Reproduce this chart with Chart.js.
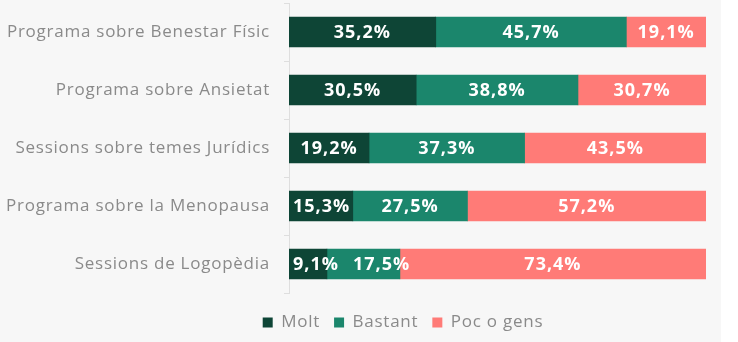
<!DOCTYPE html>
<html lang="ca">
  <head>
    <meta charset="UTF-8" />
    <meta name="viewport" content="width=device-width, initial-scale=1.0" />
    <title>Valoració dels programes</title>
    <script src="https://cdn.jsdelivr.net/npm/chart.js"></script>
    <style>
      html, body { margin: 0; padding: 0; background: #ffffff; }
      .wrap { width: 721px; height: 342px; background: #f7f7f7; }
    </style>
  </head>
  <body>
    <div class="wrap">
      <canvas id="programesChart" width="721" height="342"></canvas>
    </div>

    <script>
        const programes = [
            'Programa sobre Benestar Físic',
            'Programa sobre Ansietat',
            'Sessions sobre temes Jurídics',
            'Programa sobre la Menopausa',
            'Sessions de Logopèdia'
        ];
        const molt = [35.2, 30.5, 19.2, 15.3, 9.1];
        const bastant = [45.7, 38.8, 37.3, 27.5, 17.5];
        const pocOGens = [19.1, 30.7, 43.5, 57.2, 73.4];

        const fontFamily = '"Open Sans", Lato, sans-serif';

        // a bit of tracking on all canvas text (axis labels, legend)
        const tracking = {
            id: 'tracking',
            beforeUpdate(chart) { chart.ctx.letterSpacing = '0.75px'; },
            beforeDraw(chart) { chart.ctx.letterSpacing = '0.75px'; }
        };

        // nudge the legend right so it sits under the bars rather than the canvas centre
        const legendShift = {
            id: 'legendShift',
            afterLayout(chart) {
                chart.legend.left += 50;
                chart.legend.right += 50;
            }
        };

        // white percentage labels inside each segment, pushed right if they would overlap
        const segmentLabels = {
            id: 'segmentLabels',
            afterDatasetsDraw(chart) {
                const ctx = chart.ctx;
                ctx.save();
                ctx.font = 'bold 18px ' + fontFamily;
                ctx.letterSpacing = '1px';
                ctx.fillStyle = '#ffffff';
                ctx.textBaseline = 'middle';
                ctx.textAlign = 'left';
                programes.forEach((_, i) => {
                    let minLeft = chart.chartArea.left + 4;
                    chart.data.datasets.forEach((ds, d) => {
                        const bar = chart.getDatasetMeta(d).data[i];
                        const text = ds.data[i].toFixed(1).replace('.', ',') + '%';
                        const w = ctx.measureText(text).width;
                        let left = (bar.x + bar.base) / 2 - w / 2;
                        if (left < minLeft) left = minLeft;
                        ctx.fillText(text, left, bar.y + 1);
                        minLeft = left + w + 14;
                    });
                });
                ctx.restore();
            }
        };

        const ctx = document.getElementById('programesChart').getContext('2d');
        new Chart(ctx, {
            type: 'bar',
            data: {
                labels: programes,
                datasets: [
                    { label: 'Molt', data: molt, backgroundColor: '#0e4536' },
                    { label: 'Bastant', data: bastant, backgroundColor: '#1b866c' },
                    { label: 'Poc o gens', data: pocOGens, backgroundColor: '#ff7b77' }
                ]
            },
            options: {
                indexAxis: 'y',
                responsive: false,
                animation: false,
                barThickness: 30,
                layout: { padding: { top: 3, right: 15, bottom: 1, left: 0 } },
                scales: {
                    x: {
                        stacked: true,
                        min: 0,
                        max: 100,
                        // kept only as an empty spacer above the legend
                        grid: { display: false },
                        border: { display: false },
                        ticks: { display: false },
                        afterFit(scale) { scale.height = 7; }
                    },
                    y: {
                        stacked: true,
                        afterFit(scale) {
                            scale.width = 289;
                            scale.paddingTop = 0;
                            scale.paddingBottom = 0;
                        },
                        grid: {
                            drawOnChartArea: false,
                            tickLength: 5,
                            color: '#dedede'
                        },
                        border: { color: '#dedede' },
                        ticks: {
                            color: '#8a8a8a',
                            padding: 14,
                            font: { family: fontFamily, size: 17 }
                        }
                    }
                },
                plugins: {
                    tooltip: { enabled: false },
                    legend: {
                        position: 'bottom',
                        labels: {
                            boxWidth: 10,
                            boxHeight: 10,
                            padding: 14,
                            color: '#8a8a8a',
                            font: { family: fontFamily, size: 17 }
                        }
                    }
                }
            },
            plugins: [tracking, legendShift, segmentLabels]
        });
    </script>
  </body>
</html>
